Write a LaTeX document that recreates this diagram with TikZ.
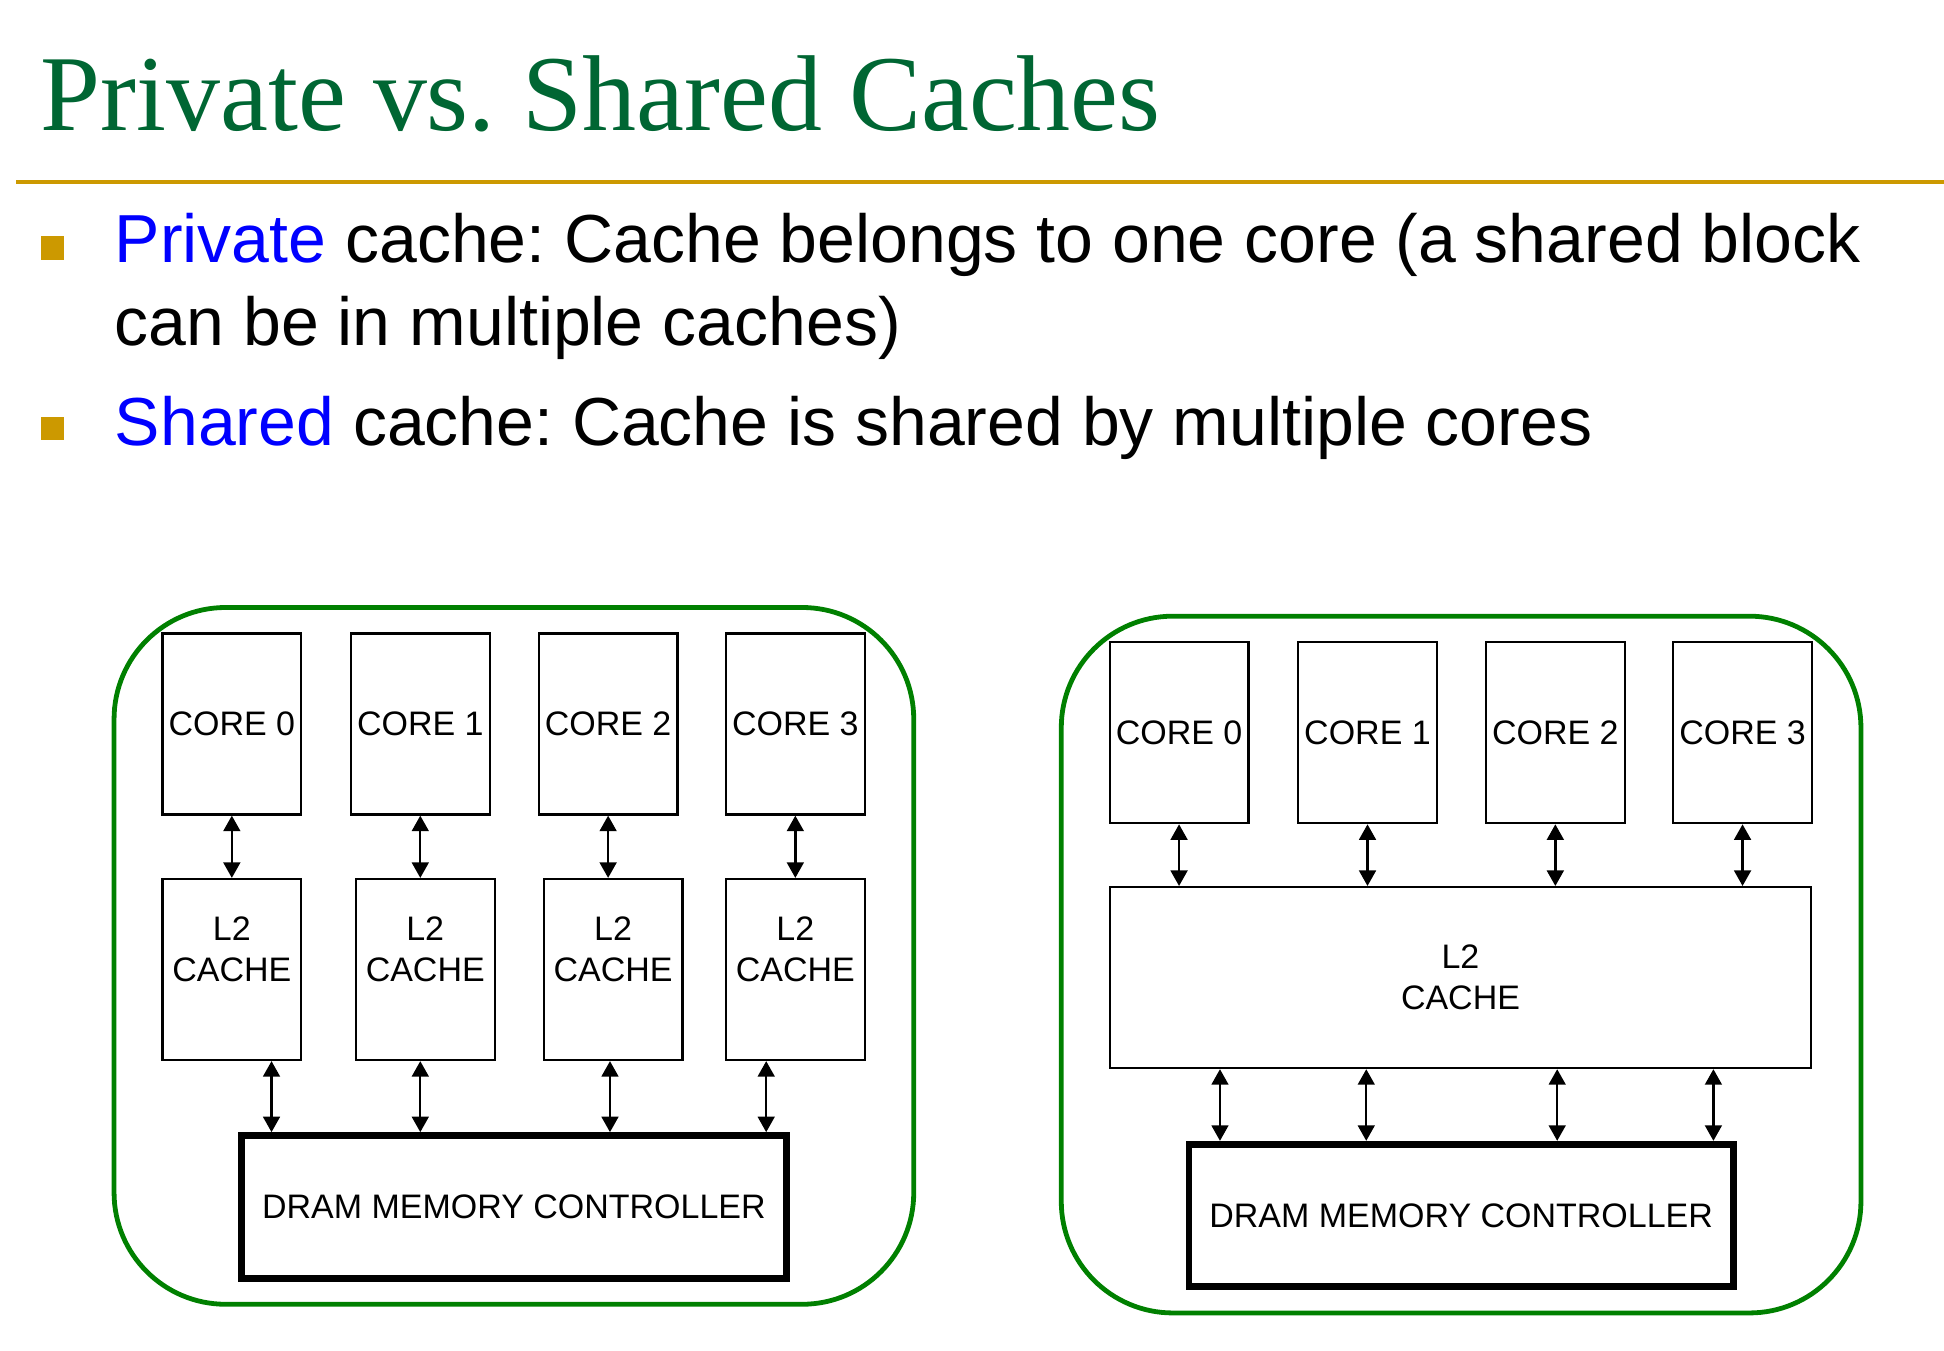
\documentclass[tikz,border=0pt]{standalone}
\usepackage{fontspec}
\setmainfont{Liberation Sans}
\newfontfamily\titlefont{Liberation Serif}
\usetikzlibrary{positioning}
\usetikzlibrary{calc}
\usetikzlibrary{arrows.meta}

\definecolor{titlegreen}{RGB}{0,102,51}
\definecolor{rulegold}{RGB}{204,153,0}
\definecolor{boxgreen}{RGB}{0,128,0}
\frenchspacing

\begin{document}
\begin{tikzpicture}
		\tikzset{core/.style = {shape=rectangle,draw,line width=0.5pt,minimum width=1.12cm,minimum height=1.46cm,inner sep=0pt,font=\fontsize{7.8}{9.4}\selectfont}}
		\tikzset{cache/.style = {core,align=center}}
		\tikzset{dram/.style = {shape=rectangle,draw,line width=1.6pt,minimum width=4.39cm,minimum height=1.15cm,font=\fontsize{7.8}{9.4}\selectfont}}
		\tikzset{chip/.style = {shape=rectangle,draw=boxgreen,line width=1.1pt,rounded corners=0.9cm,minimum width=6.45cm,minimum height=5.62cm}}
		\tikzset{edge/.style = {<->,>={Triangle[length=1.25mm,width=1.35mm]},line width=0.55pt}}
		\tikzset{bullet/.style = {shape=rectangle,fill=rulegold,minimum size=0.19cm,inner sep=0pt}}
		\tikzset{bodytext/.style = {anchor=base west,inner sep=0pt,font=\fontsize{15.6}{19}\selectfont}}
		
		\useasboundingbox (0,0) rectangle (15.68,-10.89);
		
		% title
		\node[anchor=base west,inner sep=0pt,text=titlegreen,font=\titlefont\fontsize{24.75}{30}\selectfont] (title) at (0.32,-1.05) {Private vs. Shared Caches};
		\draw[rulegold,line width=0.85pt] (0.13,-1.47) -- (15.68,-1.47);
		
		% bullets
		\node[bullet] (b1) at (0.425,-2.00) {};
		\node[bodytext] (t1) at (0.92,-2.12) {\textcolor{blue}{Private} cache: Cache belongs to one core (a shared block};
		\node[bodytext] (t2) at (0.92,-2.79) {can be in multiple caches)};
		\node[bullet] (b2) at (0.425,-3.455) {};
		\node[bodytext] (t3) at (0.92,-3.59) {\textcolor{blue}{Shared} cache: Cache is shared by multiple cores};
		
		% private caches
		\node[chip] (lbox) at (4.145,-7.71) {};
		\node[core] (c0) at (1.87,-5.84) {CORE 0};
		\node[core] (c1) at (3.39,-5.84) {CORE 1};
		\node[core] (c2) at (4.905,-5.84) {CORE 2};
		\node[core] (c3) at (6.415,-5.84) {CORE 3};
		\node[cache] (l0) at (1.87,-7.82) {L2\\CACHE\\\phantom{L}};
		\node[cache] (l1) at (3.43,-7.82) {L2\\CACHE\\\phantom{L}};
		\node[cache] (l2) at (4.945,-7.82) {L2\\CACHE\\\phantom{L}};
		\node[cache] (l3) at (6.415,-7.82) {L2\\CACHE\\\phantom{L}};
		\node[dram] (m0) at (4.145,-9.735) {DRAM MEMORY CONTROLLER};
		
		%edges
		\draw[edge] (c0.south) -- (c0.south |- l0.north);
		\draw[edge] (c1.south) -- (c1.south |- l1.north);
		\draw[edge] (c2.south) -- (c2.south |- l2.north);
		\draw[edge] (c3.south) -- (c3.south |- l3.north);
		
		\draw[edge] ($(l0.south)+(0.32,0)$) -- ($(l0.south |- m0.north)+(0.32,0)$);
		\draw[edge] ($(l1.south)+(-0.04,0)$) -- ($(l1.south |- m0.north)+(-0.04,0)$);
		\draw[edge] ($(l2.south)+(-0.025,0)$) -- ($(l2.south |- m0.north)+(-0.025,0)$);
		\draw[edge] ($(l3.south)+(-0.235,0)$) -- ($(l3.south |- m0.north)+(-0.235,0)$);
		
		% shared cache
		\begin{scope}[xshift=7.64cm,yshift=-0.07cm]
		\node[chip] (rbox) at (4.145,-7.71) {};
		\node[core] (rc0) at (1.87,-5.84) {CORE 0};
		\node[core] (rc1) at (3.39,-5.84) {CORE 1};
		\node[core] (rc2) at (4.905,-5.84) {CORE 2};
		\node[core] (rc3) at (6.415,-5.84) {CORE 3};
		\node[cache,minimum width=5.66cm] (rl) at (4.14,-7.815) {L2\\CACHE};
		\node[dram] (rm) at (4.145,-9.735) {DRAM MEMORY CONTROLLER};
		
		%edges
		\draw[edge] (rc0.south) -- (rc0.south |- rl.north);
		\draw[edge] (rc1.south) -- (rc1.south |- rl.north);
		\draw[edge] (rc2.south) -- (rc2.south |- rl.north);
		\draw[edge] (rc3.south) -- (rc3.south |- rl.north);
		
		\draw[edge] ($(rl.south)+(-1.94,0)$) -- ($(rl.south |- rm.north)+(-1.94,0)$);
		\draw[edge] ($(rl.south)+(-0.76,0)$) -- ($(rl.south |- rm.north)+(-0.76,0)$);
		\draw[edge] ($(rl.south)+(0.78,0)$) -- ($(rl.south |- rm.north)+(0.78,0)$);
		\draw[edge] ($(rl.south)+(2.04,0)$) -- ($(rl.south |- rm.north)+(2.04,0)$);
		\end{scope}
		
\end{tikzpicture}
\end{document}
